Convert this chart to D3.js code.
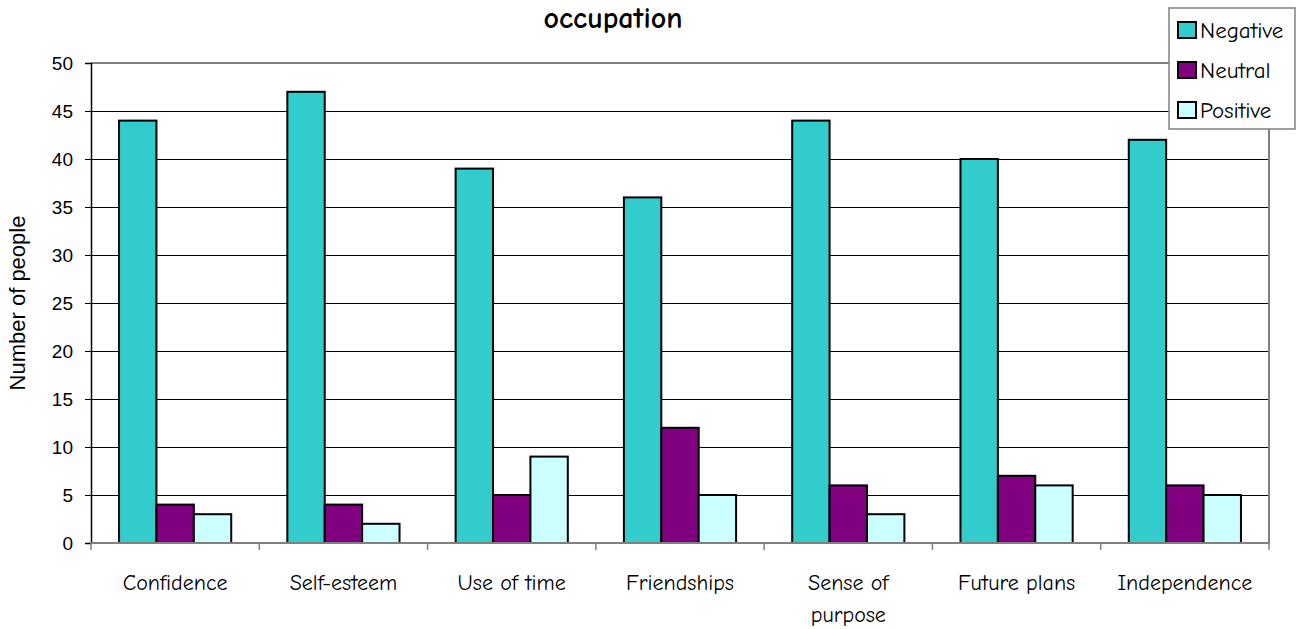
<!DOCTYPE html>
<html>
<head>
<meta charset="utf-8">
<script src="https://cdn.jsdelivr.net/npm/d3@7"></script>
<style>
  html, body { margin: 0; padding: 0; background: #fff; }
  svg { display: block; }
</style>
</head>
<body>
<svg id="chart" width="1304" height="629"></svg>
<script>
// Responses per life area
const categories = [["Confidence"], ["Self-esteem"], ["Use of time"], ["Friendships"], ["Sense of", "purpose"], ["Future plans"], ["Independence"]];
const seriesNames = ["Negative", "Neutral", "Positive"];
const negative = [44, 47, 39, 36, 44, 40, 42];
const neutral  = [4, 4, 5, 12, 6, 7, 6];
const positive = [3, 2, 9, 5, 3, 6, 5];
const yTicks = [0, 5, 10, 15, 20, 25, 30, 35, 40, 45, 50];
const colors = ["#33CCCC", "#800080", "#CCFFFF"];

const comic = "'Comic Sans MS', 'Comic Neue', 'DejaVu Sans', sans-serif";
const arial = "Arial, 'Liberation Sans', sans-serif";

const svg = d3.select("#chart");
const plot = { left: 91, right: 1269, top: 63, bottom: 543 };

const catKeys = categories.map(c => c.join(" "));
const x0 = d3.scaleBand().domain(catKeys).range([plot.left, plot.right]).padding(0);
const groupW = x0.bandwidth() * 3 / 4.5;
const x1 = d3.scaleBand().domain(seriesNames)
  .range([(x0.bandwidth() - groupW) / 2, (x0.bandwidth() + groupW) / 2]).padding(0);
const y = d3.scaleLinear().domain([0, 50]).range([plot.bottom, plot.top]);

// gridlines
svg.append("g").selectAll("line").data(yTicks.filter(t => t > 0 && t < 50)).join("line")
  .attr("x1", plot.left).attr("x2", plot.right)
  .attr("y1", d => y(d)).attr("y2", d => y(d))
  .attr("stroke", "#000").attr("stroke-width", 1).attr("shape-rendering", "crispEdges");

// plot frame (top and right)
svg.append("path")
  .attr("d", `M${plot.left},${y(50)}H${plot.right}V${plot.bottom}`)
  .attr("fill", "none").attr("stroke", "#808080").attr("stroke-width", 2);

// bars
const data = catKeys.map((k, i) => ({ key: k, vals: [negative[i], neutral[i], positive[i]] }));
const groups = svg.append("g").selectAll("g").data(data).join("g")
  .attr("transform", d => `translate(${x0(d.key)},0)`);
groups.selectAll("rect").data(d => d.vals.map((v, j) => ({ v, s: seriesNames[j], j }))).join("rect")
  .attr("x", d => x1(d.s))
  .attr("width", x1.bandwidth())
  .attr("y", d => y(d.v))
  .attr("height", d => y(0) - y(d.v))
  .attr("fill", d => colors[d.j])
  .attr("stroke", "#000").attr("stroke-width", 2);

// y axis
const yAxis = svg.append("g").attr("transform", `translate(${plot.left},0)`)
  .call(d3.axisLeft(y).tickValues(yTicks).tickSize(6).tickPadding(12));
yAxis.select(".domain").attr("stroke", "#000").attr("stroke-width", 1.5);
yAxis.selectAll(".tick line").attr("stroke", "#000");
yAxis.selectAll(".tick text").attr("font-family", arial).attr("font-size", 19).attr("fill", "#000");

// x axis with ticks at category boundaries
const boundaries = catKeys.map(k => x0(k)).concat([plot.right]);
const xAxisG = svg.append("g").attr("transform", `translate(0,${plot.bottom})`);
xAxisG.append("line").attr("x1", plot.left).attr("x2", plot.right)
  .attr("stroke", "#808080").attr("stroke-width", 2);
xAxisG.selectAll("line.tk").data(boundaries).join("line").attr("class", "tk")
  .attr("x1", d => d).attr("x2", d => d).attr("y1", 0).attr("y2", 7)
  .attr("stroke", "#808080").attr("stroke-width", 1.5);

// category labels
const lab = svg.append("g").selectAll("text").data(categories).join("text")
  .attr("x", (d, i) => x0(catKeys[i]) + x0.bandwidth() / 2)
  .attr("y", 590)
  .attr("text-anchor", "middle")
  .attr("font-family", comic).attr("font-size", 22).attr("fill", "#000");
lab.selectAll("tspan").data(d => d).join("tspan")
  .attr("x", function () { return d3.select(this.parentNode).attr("x"); })
  .attr("dy", (d, i) => i === 0 ? 0 : 32)
  .text(d => d);

// y axis title
svg.append("text")
  .attr("transform", "translate(25,303) rotate(-90)")
  .attr("text-anchor", "middle")
  .attr("font-family", arial).attr("font-size", 22).attr("fill", "#000")
  .text("Number of people");

// chart title (last line)
svg.append("text")
  .attr("x", 613).attr("y", 28)
  .attr("text-anchor", "middle")
  .attr("font-family", comic).attr("font-size", 30).attr("font-weight", "bold")
  .text("occupation");

// legend
const lg = svg.append("g");
lg.append("rect").attr("x", 1169).attr("y", 8).attr("width", 126).attr("height", 121)
  .attr("fill", "#fff").attr("stroke", "#808080").attr("stroke-width", 1.5);
const items = lg.selectAll("g").data(seriesNames).join("g")
  .attr("transform", (d, i) => `translate(1178,${30 + i * 40})`);
items.append("rect").attr("x", 0).attr("y", -8).attr("width", 18).attr("height", 16)
  .attr("fill", (d, i) => colors[i]).attr("stroke", "#000").attr("stroke-width", 2);
items.append("text").attr("x", 22).attr("y", 0).attr("dy", "0.36em")
  .attr("font-family", comic).attr("font-size", 23).attr("fill", "#000")
  .text(d => d);
</script>
</body>
</html>
